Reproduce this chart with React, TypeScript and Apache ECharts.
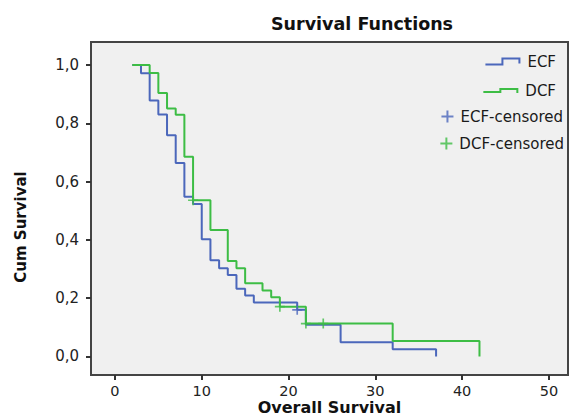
import React, { useEffect, useRef } from 'react';
import * as echarts from 'echarts';

// Kaplan-Meier step data (time, survival after the event at that time)
const ecfTimes = [2, 3, 4, 5, 6, 7, 8, 9, 10, 11, 12, 13, 14, 15, 16, 21, 22, 26, 32, 37];
const ecfSurv = [1.0, 0.972, 0.878, 0.83, 0.759, 0.664, 0.548, 0.523, 0.402, 0.33, 0.303, 0.28, 0.232, 0.209, 0.185, 0.16, 0.109, 0.049, 0.025, 0.0];
const dcfTimes = [2, 4, 5, 6, 7, 8, 9, 11, 13, 14, 15, 17, 18, 19, 22, 32, 42];
const dcfSurv = [1.0, 0.973, 0.904, 0.851, 0.829, 0.685, 0.536, 0.434, 0.328, 0.303, 0.251, 0.226, 0.203, 0.171, 0.113, 0.053, 0.0];

// Censored observations
const ecfCensTimes = [21];
const ecfCensSurv = [0.16];
const dcfCensTimes = [9, 19, 22, 24];
const dcfCensSurv = [0.536, 0.171, 0.113, 0.113];

const xTicks = [0, 10, 20, 30, 40, 50];
const yTicks = [0, 0.2, 0.4, 0.6, 0.8, 1.0];

const BLUE = '#4b67bb';
const GREEN = '#3dbd45';
const FONT = 'DejaVu Sans';

function stepPoints(times: number[], surv: number[]) {
  const pts: number[][] = [[times[0], surv[0]]];
  for (let i = 1; i < times.length; i++) {
    pts.push([times[i], surv[i - 1]]);
    pts.push([times[i], surv[i]]);
  }
  return pts;
}

function pairs(t: number[], s: number[]) {
  return t.map((v, i) => [v, s[i]]);
}

const STEP_ICON_1 = 'path://M0,6H16V0H35V6H33V2H18V8H0Z';
const STEP_ICON_2 = 'path://M0,3H16V0H35V5H33V2H18V5H0Z';
const PLUS = 'path://M5,0H7V5H12V7H7V12H5V7H0V5H5Z';

export default function App() {
  const ref = useRef<HTMLDivElement>(null);
  useEffect(() => {
    if (!ref.current) return;
    const chart = echarts.init(ref.current, null, { renderer: 'svg', width: 570, height: 419 });
    const legendText = { fontFamily: FONT, fontSize: 15, color: '#1a1a1a', padding: [0, 0, 0, 2] };
    const mkLegend = (name: string, icon: string, color: string, w: number, h: number, right: number, top: number) => ({
      show: true,
      orient: 'horizontal',
      right,
      top,
      padding: 0,
      itemWidth: w,
      itemHeight: h,
      selectedMode: false,
      textStyle: legendText,
      data: [{ name, icon, itemStyle: { color, borderWidth: 0 } }],
    });
    chart.setOption({
      animation: false,
      backgroundColor: '#ffffff',
      title: {
        text: 'Survival Functions',
        left: 362,
        top: 15,
        textAlign: 'center',
        padding: 0,
        textStyle: { fontFamily: FONT, fontWeight: 'bold', fontSize: 17.5, color: '#111' },
      },
      legend: [
        mkLegend('ECF', STEP_ICON_1, BLUE, 35, 8, 14, 54),
        mkLegend('DCF', STEP_ICON_2, GREEN, 35, 5, 14, 83),
        mkLegend('ECF-censored', PLUS, BLUE, 12, 12, 7, 109),
        mkLegend('DCF-censored', PLUS, GREEN, 12, 12, 6, 136),
      ],
      grid: {
        show: true,
        left: 91,
        top: 42,
        right: 2,
        bottom: 44,
        outerBoundsMode: 'none',
        containLabel: false,
        backgroundColor: '#f0f0f0',
        borderColor: '#444',
        borderWidth: 2,
      },
      xAxis: {
        type: 'value',
        min: -2.76,
        max: 52.2,
        name: 'Overall Survival',
        nameLocation: 'middle',
        nameGap: 24,
        nameMoveOverlap: false,
        nameTextStyle: { fontFamily: FONT, fontWeight: 'bold', fontSize: 16, color: '#111', lineHeight: 17 },
        axisLine: { show: true, onZero: false, lineStyle: { color: '#444', width: 2 } },
        axisTick: { show: true, length: 5, customValues: xTicks, lineStyle: { color: '#333', width: 2 } },
        axisLabel: { customValues: xTicks, margin: 8, fontFamily: FONT, fontSize: 14.5, lineHeight: 15, color: '#222' },
        splitLine: { show: false },
      },
      yAxis: {
        type: 'value',
        min: -0.0635,
        max: 1.079,
        axisLine: { show: true, onZero: false, lineStyle: { color: '#444', width: 2 } },
        axisTick: { show: true, length: 5, customValues: yTicks, lineStyle: { color: '#333', width: 2 } },
        axisLabel: {
          customValues: yTicks,
          margin: 12,
          fontFamily: FONT,
          fontSize: 15,
          color: '#222',
          formatter: (v: number) => v.toFixed(1).replace('.', ','),
        },
        splitLine: { show: false },
      },
      graphic: [
        {
          type: 'text',
          x: 21,
          y: 227,
          rotation: Math.PI / 2,
          style: {
            text: 'Cum Survival',
            font: `bold 15px "${FONT}"`,
            align: 'center',
            verticalAlign: 'middle',
            fill: '#111',
          },
        },
      ],
      series: [
        {
          name: 'ECF',
          type: 'line',
          data: stepPoints(ecfTimes, ecfSurv),
          showSymbol: false,
          symbol: 'none',
          lineStyle: { color: BLUE, width: 2 },
          itemStyle: { color: BLUE },
          z: 2,
        },
        {
          name: 'DCF',
          type: 'line',
          data: stepPoints(dcfTimes, dcfSurv),
          showSymbol: false,
          symbol: 'none',
          lineStyle: { color: GREEN, width: 2 },
          itemStyle: { color: GREEN },
          z: 3,
        },
        {
          name: 'ECF-censored',
          type: 'scatter',
          data: pairs(ecfCensTimes, ecfCensSurv),
          symbol: PLUS,
          symbolSize: 10,
          itemStyle: { color: BLUE },
          z: 4,
        },
        {
          name: 'DCF-censored',
          type: 'scatter',
          data: pairs(dcfCensTimes, dcfCensSurv),
          symbol: PLUS,
          symbolSize: 10,
          itemStyle: { color: GREEN },
          z: 4,
        },
      ],
    });
    return () => chart.dispose();
  }, []);
  return (
    <div
      ref={ref}
      style={{ position: 'fixed', left: 0, top: 0, width: 570, height: 419 }}
    />
  );
}
